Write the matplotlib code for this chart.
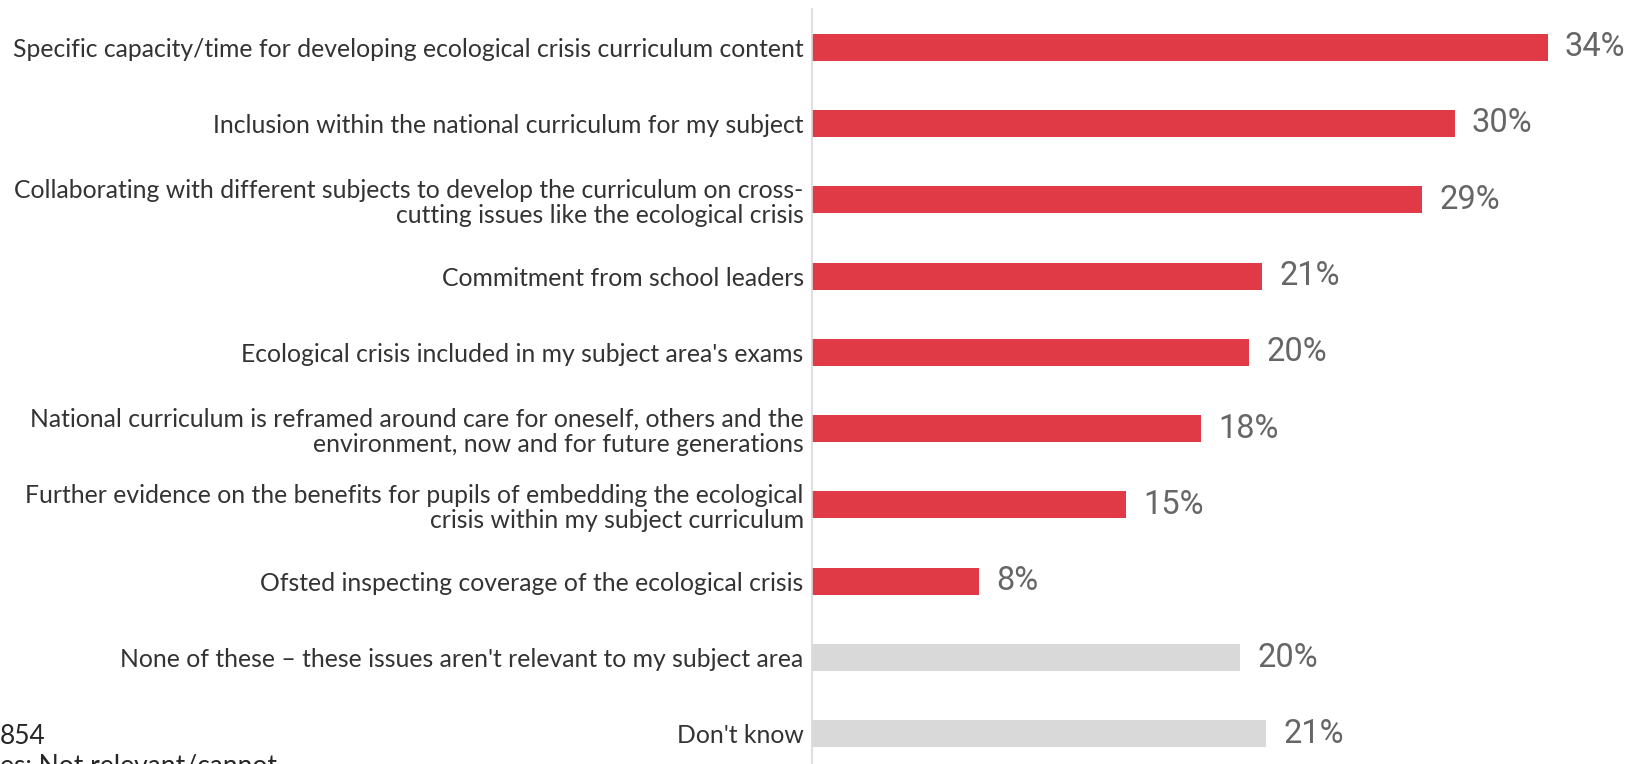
import matplotlib.pyplot as plt

labels = [
    "Specific capacity/time for developing ecological crisis curriculum content",
    "Inclusion within the national curriculum for my subject",
    "Collaborating with different subjects to develop the curriculum on cross-\ncutting issues like the ecological crisis",
    "Commitment from school leaders",
    "Ecological crisis included in my subject area's exams",
    "National curriculum is reframed around care for oneself, others and the\nenvironment, now and for future generations",
    "Further evidence on the benefits for pupils of embedding the ecological\ncrisis within my subject curriculum",
    "Ofsted inspecting coverage of the ecological crisis",
    "None of these \u2013 these issues aren't relevant to my subject area",
    "Don't know",
]
values = [34, 29.7, 28.2, 20.8, 20.2, 18.0, 14.5, 7.7, 19.8, 21.0]
value_labels = ["34%", "30%", "29%", "21%", "20%", "18%", "15%", "8%", "20%", "21%"]
is_other = [False] * 8 + [True, True]

RED = '#E03A47'
GREY = '#D9D9D9'

fig = plt.figure(figsize=(16.32, 7.64), dpi=100)
W, H = 1632, 764
ax = fig.add_axes([812 / W, -8 / H, (W - 812) / W, 763 / H])

colors = [GREY if o else RED for o in is_other]
y = list(range(len(values)))
ax.barh(y, values, height=0.355, color=colors)
ax.set_ylim(len(values) - 0.5, -0.5)
ax.set_xlim(0, 37.9)

for yi, v, lab in zip(y, values, value_labels):
    ax.text(v + 0.8, yi, lab, va='center', ha='left', fontsize=23.5,
            color='#666666', family='Roboto')

ax.set_yticks(y)
ax.set_yticklabels(labels, fontsize=17.8, family='Lato', color='#333333',
                   linespacing=1.12)
ax.tick_params(axis='y', length=0, pad=6)
ax.set_xticks([])
for s in ['top', 'right', 'bottom']:
    ax.spines[s].set_visible(False)
ax.spines['left'].set_color('#D9D9D9')
ax.spines['left'].set_linewidth(1.2)

fig.text(0, 1 - 737 / H, "854", fontsize=19, family='Lato', va='center',
         ha='left', color='#262626')
fig.text(0, 1 - 766 / H, "es: Not relevant/cannot", fontsize=19, family='Lato',
         va='center', ha='left', color='#262626')

fig.savefig('out.png', dpi=100)
